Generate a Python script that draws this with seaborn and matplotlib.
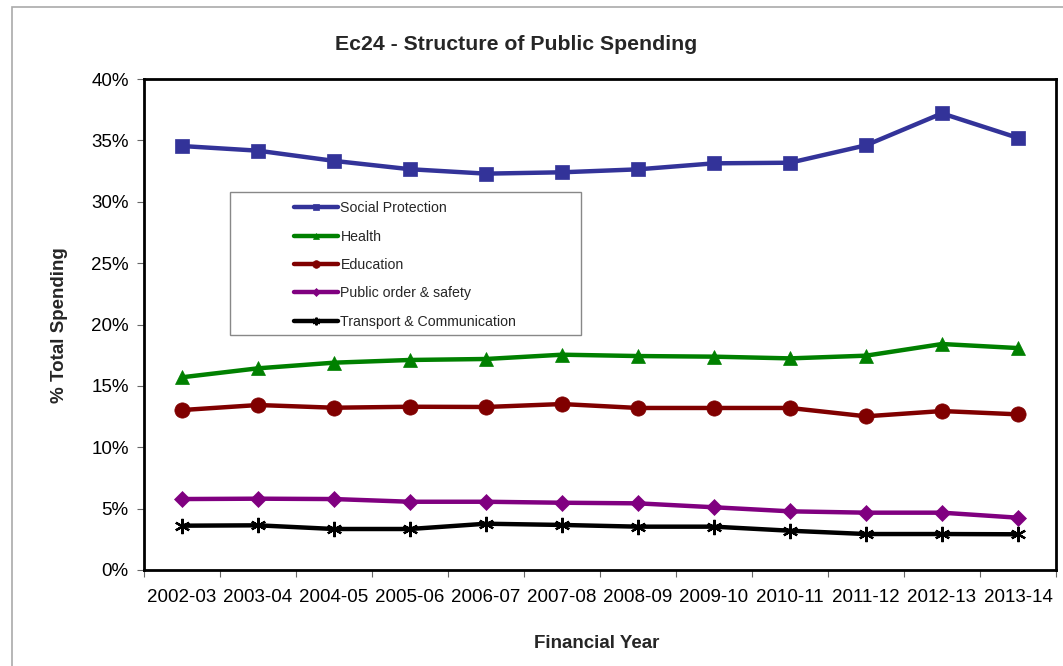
import matplotlib
matplotlib.use("Agg")
import matplotlib.pyplot as plt
import seaborn as sns
import pandas as pd
import numpy as np
from matplotlib.patches import Rectangle
from matplotlib.ticker import FixedLocator, PercentFormatter

years = ["2002-03", "2003-04", "2004-05", "2005-06", "2006-07", "2007-08",
         "2008-09", "2009-10", "2010-11", "2011-12", "2012-13", "2013-14"]
social_protection = [34.54, 34.16, 33.33, 32.65, 32.29, 32.40, 32.64, 33.13, 33.18, 34.60, 37.20, 35.20]
health = [15.70, 16.43, 16.89, 17.11, 17.19, 17.54, 17.43, 17.38, 17.24, 17.46, 18.41, 18.08]
education = [13.03, 13.44, 13.22, 13.30, 13.28, 13.52, 13.20, 13.20, 13.20, 12.52, 12.95, 12.68]
public_order = [5.78, 5.81, 5.78, 5.56, 5.56, 5.48, 5.43, 5.11, 4.78, 4.67, 4.67, 4.26]
transport = [3.61, 3.64, 3.34, 3.34, 3.77, 3.67, 3.53, 3.53, 3.20, 2.93, 2.93, 2.91]

series_names = ["Social Protection", "Health", "Education",
                "Public order & safety", "Transport & Communication"]
series_values = [social_protection, health, education, public_order, transport]

colors = ["#333399", "#008000", "#800000", "#800080", "#000000"]
asterisk = (6, 2, 0)
markers = ["s", "^", "o", "D", asterisk]
msizes = [10, 10, 11, 8, 11]

sns.set_theme(style="white")
plt.rcParams["font.family"] = ["Liberation Sans", "DejaVu Sans"]

fig = plt.figure(figsize=(10.63, 6.66), dpi=100)
ax = fig.add_axes([144/1063, 1 - 570/666, 912/1063, 491/666])

xpos = np.arange(len(years))
handles = []
for name, vals, c, m, ms in zip(series_names, series_values, colors, markers, msizes):
    df = pd.DataFrame({"x": xpos, "y": vals})
    sns.lineplot(data=df, x="x", y="y", ax=ax, color=c, linewidth=3.2,
                 marker=m, markersize=ms, markeredgecolor=c,
                 markeredgewidth=1.6 if m == asterisk else 0.5,
                 markerfacecolor=c, label=name, legend=False)
    handles.append(ax.lines[-1])

ax.set_xlim(-0.5, len(years) - 0.5)
ax.set_ylim(0, 40)
ax.yaxis.set_major_locator(FixedLocator(np.arange(0, 41, 5)))
ax.yaxis.set_major_formatter(PercentFormatter(decimals=0))
ax.set_xticks(xpos)
ax.set_xticklabels(years)
ax.xaxis.set_minor_locator(FixedLocator(np.arange(-0.5, len(years), 1.0)))
ax.tick_params(axis="x", which="major", length=0, labelsize=13.5, pad=14, colors="black")
ax.tick_params(axis="x", which="minor", length=5, width=0.8, color="#666666", bottom=True, direction="out")
ax.tick_params(axis="y", which="major", length=5, width=0.8, color="#666666", left=True,
               labelsize=13.5, pad=6, colors="black", direction="out")
for lbl in ax.get_yticklabels():
    lbl.set_color("black")
ax.set_xlabel("")
ax.set_ylabel("")
for s in ax.spines.values():
    s.set_color("black")
    s.set_linewidth(2)

# Legend: frame drawn as rectangle, entries offset inside
leg_frame = Rectangle((230/1063, 1 - 335/666), 351/1063, 143/666, transform=fig.transFigure,
                      facecolor="white", edgecolor="#888888", linewidth=1, zorder=5, clip_on=False)
ax.add_patch(leg_frame)
leg = ax.legend(handles=handles, labels=series_names, loc="upper left",
                bbox_to_anchor=(283/1063, 1 - 190/666), bbox_transform=fig.transFigure,
                frameon=False, fontsize=10.2, markerscale=0.5, handlelength=3.1,
                handletextpad=0.15, labelspacing=1.01, borderpad=0.3)
leg.set_zorder(6)

fig.text(516/1063, 1 - 45/666, "Ec24 - Structure of Public Spending", ha="center", va="center",
         fontsize=15.3, fontweight="bold")
fig.text(60/1063, 1 - 325/666, "% Total Spending", ha="center", va="center",
         rotation=90, fontsize=13.5, fontweight="bold")
fig.text(597/1063, 1 - 643/666, "Financial Year", ha="center", va="center",
         fontsize=13.5, fontweight="bold")

# outer chart border
fig.patches.append(Rectangle((12/1063, -0.05), 1.1, 1 - 7/666 + 0.05, transform=fig.transFigure,
                             facecolor="none", edgecolor="#aaaaaa", linewidth=1.2, zorder=0))

fig.savefig("out.png", dpi=100)
